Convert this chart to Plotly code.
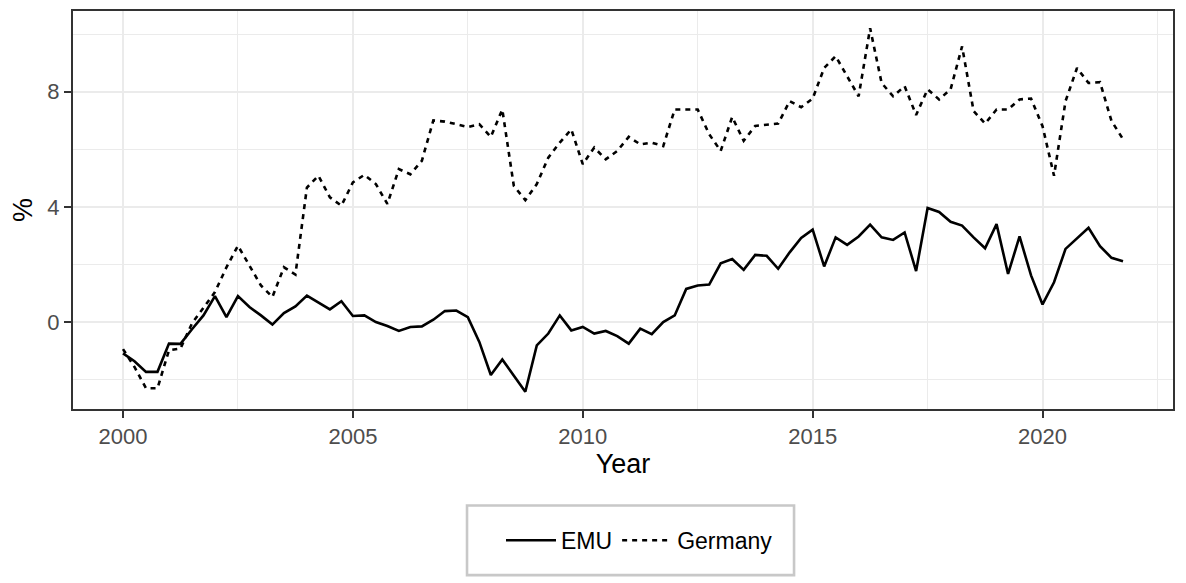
import plotly.graph_objects as go

# Quarterly observations, 2000 Q1 .. 2021 Q4
n_quarters = 88
quarters = [2000 + q / 4 for q in range(n_quarters)]

emu = [
    -1.09, -1.36, -1.73, -1.73, -0.75, -0.76, -0.25, 0.23,
    0.90, 0.17, 0.90, 0.52, 0.23, -0.09, 0.31, 0.54,
    0.92, 0.69, 0.44, 0.72, 0.21, 0.23, 0.00, -0.14,
    -0.31, -0.17, -0.15, 0.08, 0.38, 0.40, 0.17, -0.69,
    -1.84, -1.30, -1.84, -2.42, -0.81, -0.40, 0.23, -0.29,
    -0.17, -0.40, -0.31, -0.49, -0.75, -0.23, -0.42, 0.00,
    0.23, 1.15, 1.27, 1.30, 2.04, 2.19, 1.81, 2.33,
    2.30, 1.85, 2.42, 2.92, 3.21, 1.93, 2.94, 2.68,
    2.97, 3.38, 2.94, 2.85, 3.11, 1.77, 3.96, 3.82,
    3.48, 3.35, 2.94, 2.56, 3.40, 1.67, 2.97, 1.62,
    0.61, 1.38, 2.54, 2.89, 3.27, 2.63, 2.23, 2.11,
]

germany = [
    -0.94, -1.56, -2.30, -2.30, -0.98, -0.92, -0.05, 0.50,
    1.04, 1.90, 2.65, 1.96, 1.27, 0.87, 1.90, 1.65,
    4.67, 5.08, 4.33, 4.04, 4.85, 5.11, 4.79, 4.10,
    5.31, 5.13, 5.60, 7.00, 6.96, 6.87, 6.77, 6.87,
    6.43, 7.38, 4.73, 4.23, 4.79, 5.71, 6.23, 6.69,
    5.48, 6.06, 5.65, 5.94, 6.43, 6.17, 6.23, 6.11,
    7.38, 7.38, 7.38, 6.52, 5.94, 7.12, 6.29, 6.81,
    6.84, 6.89, 7.67, 7.46, 7.76, 8.82, 9.23, 8.54,
    7.84, 10.20, 8.30, 7.84, 8.19, 7.19, 8.08, 7.73,
    8.08, 9.57, 7.33, 6.89, 7.38, 7.38, 7.73, 7.76,
    6.80, 5.08, 7.67, 8.82, 8.30, 8.33, 6.98, 6.35,
]

x_ticks = [2000, 2005, 2010, 2015, 2020]
y_ticks = [0, 4, 8]
series_names = ["EMU", "Germany"]

FONT = "Liberation Sans, Arial, sans-serif"
GRID = "#EBEBEB"
AXIS = "#333333"
TICKTXT = "#4D4D4D"

fig = go.Figure()
fig.add_trace(go.Scatter(
    x=quarters, y=emu, mode="lines", name=series_names[0],
    line=dict(color="black", width=2.6),
))
fig.add_trace(go.Scatter(
    x=quarters, y=germany, mode="lines", name=series_names[1],
    line=dict(color="black", width=2.6, dash="5px,5px"),
))

fig.update_layout(
    width=1178, height=575, autosize=False,
    margin=dict(l=65, r=13, t=1, b=174),
    paper_bgcolor="white", plot_bgcolor="white",
    font=dict(family=FONT, color=TICKTXT),
    showlegend=True,
    legend=dict(
        orientation="h", x=0.515, xanchor="center", y=-0.33, yanchor="middle",
        font=dict(size=23, color="black", family=FONT),
        bgcolor="rgba(0,0,0,0)", borderwidth=0,
        itemwidth=50,
    ),
    shapes=[dict(
        type="rect", xref="paper", yref="paper",
        x0=0.3582, x1=0.6555, y0=-0.2425, y1=-0.4175,
        line=dict(color="#C8C8C8", width=2.6), fillcolor="rgba(0,0,0,0)",
        layer="below",
    )],
)

fig.update_xaxes(
    range=[1998.9125, 2022.8375],
    tickvals=x_ticks, ticktext=[str(t) for t in x_ticks],
    showline=True, mirror=True, linecolor=AXIS, linewidth=2,
    ticks="outside", ticklen=7, tickwidth=2, tickcolor=AXIS,
    tickfont=dict(size=22, color=TICKTXT, family=FONT),
    showgrid=True, gridcolor=GRID, gridwidth=2,
    minor=dict(tickvals=[2002.5, 2007.5, 2012.5, 2017.5, 2022.5],
               showgrid=True, gridcolor=GRID, gridwidth=1, ticks=""),
    zeroline=False,
    title=dict(text="Year", font=dict(size=27, color="black", family=FONT), standoff=4),
)
fig.update_yaxes(
    range=[-3.02, 10.80],
    tickvals=y_ticks, ticktext=[str(t) for t in y_ticks],
    showline=True, mirror=True, linecolor=AXIS, linewidth=2,
    ticks="outside", ticklen=7, tickwidth=2, tickcolor=AXIS,
    tickfont=dict(size=22, color=TICKTXT, family=FONT),
    showgrid=True, gridcolor=GRID, gridwidth=2,
    minor=dict(tickvals=[-2, 2, 6, 10],
               showgrid=True, gridcolor=GRID, gridwidth=1, ticks=""),
    zeroline=False,
    title=dict(text="%", font=dict(size=27, color="black", family=FONT), standoff=8),
)

fig.write_html("out.html")
